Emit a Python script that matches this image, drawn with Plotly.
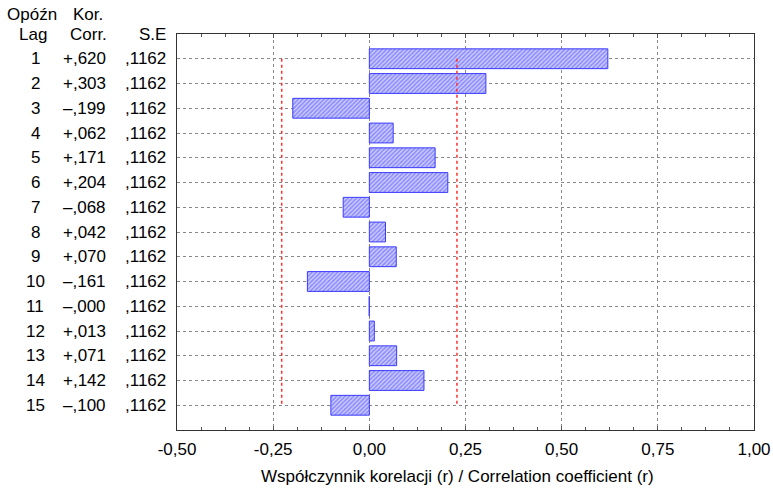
import plotly.graph_objects as go

lags = list(range(1, 16))
corr = [0.620, 0.303, -0.199, 0.062, 0.171, 0.204, -0.068, 0.042, 0.070,
        -0.161, -0.0004, 0.013, 0.071, 0.142, -0.100]
se = [0.1162] * 15
x_ticks = [-0.5, -0.25, 0.0, 0.25, 0.5, 0.75, 1.0]
x_ticklabels = ["-0,50", "-0,25", "0,00", "0,25", "0,50", "0,75", "1,00"]
x_title = "Współczynnik korelacji (r) / Correlation coefficient (r)"

FONT = "Liberation Sans, Arial, sans-serif"
FS = 17
L, R, T, B = 177, 19, 34, 59
W, H = 773, 489
PW = W - L - R
PH = H - T - B


def fmt_corr(v):
    s = f"{abs(v):.3f}"[1:].replace(".", ",")
    return ("\u2013" if v < 0 else "+") + s


def fmt_se(v):
    return f"{v:.4f}"[1:].replace(".", ",")


def px2paper(px):
    return (px - L) / PW


def py2paper(py):
    return 1 + (T - py) / PH


fig = go.Figure()
fig.add_trace(go.Bar(
    x=corr, y=lags, orientation="h", width=0.8,
    marker=dict(color="white",
                line=dict(color="#3a3aff", width=1),
                pattern=dict(shape="/", fgcolor="#4646ff", bgcolor="#d0d0ff",
                             size=3, solidity=0.55)),
    showlegend=False, hoverinfo="skip"))

z = 1.96
upper = [z * s for s in se]
lower = [-z * s for s in se]
for band in (upper, lower):
    fig.add_trace(go.Scatter(
        x=band, y=lags, mode="lines",
        line=dict(color="#ff3030", width=1.5, dash="dot"),
        showlegend=False, hoverinfo="skip"))

ann = []
for lag, c, s in zip(lags, corr, se):
    ann.append(dict(x=px2paper(35), y=lag, xref="paper", yref="y", text=str(lag),
                    showarrow=False, xanchor="center", yanchor="middle",
                    font=dict(size=FS, family=FONT, color="black")))
    ann.append(dict(x=px2paper(108), y=lag, xref="paper", yref="y", text=fmt_corr(c),
                    showarrow=False, xanchor="right", yanchor="middle",
                    font=dict(size=FS, family=FONT, color="black")))
    ann.append(dict(x=px2paper(168), y=lag, xref="paper", yref="y", text=fmt_se(s),
                    showarrow=False, xanchor="right", yanchor="middle",
                    font=dict(size=FS, family=FONT, color="black")))

headers = [(32, 15, "center", "Opóźn"), (33, 34, "center", "Lag"),
           (88, 15, "center", "Kor."), (88, 34, "center", "Corr."),
           (168, 34, "right", "S.E")]
for hx, hy, anc, txt in headers:
    ann.append(dict(x=px2paper(hx), y=py2paper(hy), xref="paper", yref="paper",
                    text=txt, showarrow=False, xanchor=anc, yanchor="middle",
                    font=dict(size=FS, family=FONT, color="black")))

ann.append(dict(x=px2paper(457), y=py2paper(476), xref="paper", yref="paper",
                text=x_title, showarrow=False, xanchor="center", yanchor="middle",
                font=dict(size=FS, family=FONT, color="black")))

fig.update_layout(
    width=W, height=H,
    margin=dict(l=L, r=R, t=T, b=B, autoexpand=False),
    plot_bgcolor="white", paper_bgcolor="white",
    font=dict(family=FONT, size=FS, color="black"),
    annotations=ann,
    bargap=0.2,
)
fig.update_xaxes(
    range=[-0.5, 1.0], tickvals=x_ticks, ticktext=x_ticklabels, automargin=False,
    tickfont=dict(size=FS, family=FONT, color="black"), ticklabelstandoff=4,
    showline=True, linecolor="#333333", linewidth=1, mirror="ticks",
    ticks="inside", ticklen=4, tickcolor="#555555",
    minor=dict(dtick=0.0625, tick0=-0.5, ticks="inside", ticklen=3, tickcolor="#555555",
               showgrid=False),
    showgrid=True, gridcolor="#888888", gridwidth=1, griddash="dot",
    zeroline=False,
)
fig.update_yaxes(
    range=[16, 0], tickvals=lags, showticklabels=False, ticks="", automargin=False,
    showline=True, linecolor="#333333", linewidth=1, mirror=True,
    showgrid=True, gridcolor="#888888", gridwidth=1, griddash="dot",
    zeroline=False,
)

fig.write_html("out.html")
